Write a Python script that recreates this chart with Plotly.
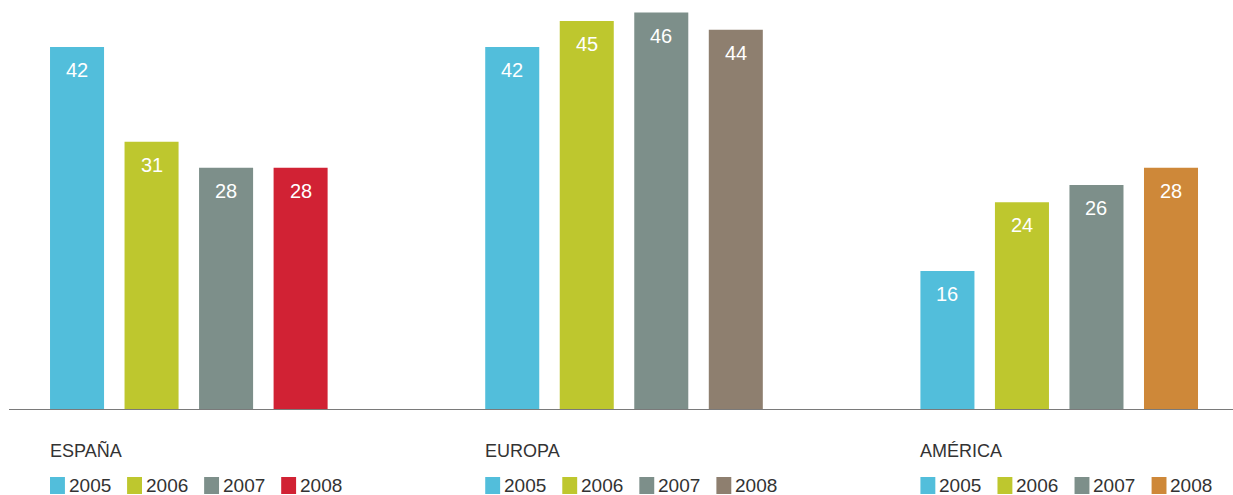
import plotly.graph_objects as go

regions = ["ESPAÑA", "EUROPA", "AMÉRICA"]
years = ["2005", "2006", "2007", "2008"]
espana = [42, 31, 28, 28]
europa = [42, 45, 46, 44]
america = [16, 24, 26, 28]
values = [espana, europa, america]

colors = {
    "ESPAÑA": ["#52BEDB", "#BEC72E", "#7D8F8A", "#D12234"],
    "EUROPA": ["#52BEDB", "#BEC72E", "#7D8F8A", "#8E7F6F"],
    "AMÉRICA": ["#52BEDB", "#BEC72E", "#7D8F8A", "#CE8839"],
}

FONT = "Liberation Sans, Arial, Helvetica, sans-serif"
GROUP_STEP = 5.84
BAR_W = 0.725
PLOT_H = 409  # px height of plotting area
LEG_STEP = 1.034  # legend item step in x units

def py(px_from_top):
    return (PLOT_H - px_from_top) / PLOT_H

fig = go.Figure()
annotations = []
shapes = []
for gi, (reg, vals) in enumerate(zip(regions, values)):
    for si, (yr, v) in enumerate(zip(years, vals)):
        xpos = gi * GROUP_STEP + si
        fig.add_trace(go.Bar(
            x=[xpos], y=[v], width=BAR_W, name=yr,
            marker=dict(color=colors[reg][si], line=dict(width=0)),
            showlegend=False, hoverinfo="skip",
        ))
        annotations.append(dict(
            x=xpos, y=v, xref="x", yref="y", text=str(v), showarrow=False,
            yshift=-23, font=dict(color="white", size=20, family=FONT),
        ))
    # manual legend block
    x0 = gi * GROUP_STEP - BAR_W / 2
    annotations.append(dict(
        x=x0, y=py(451), xref="x", yref="paper", text=reg, showarrow=False,
        xanchor="left", yanchor="middle", xshift=-2,
        font=dict(color="#333333", size=18, family=FONT),
    ))
    for si, yr in enumerate(years):
        sx = x0 + si * LEG_STEP
        shapes.append(dict(
            type="rect", xref="x", yref="paper",
            x0=sx, x1=sx + 0.2, y0=py(494), y1=py(477),
            fillcolor=colors[reg][si], line=dict(width=0),
        ))
        annotations.append(dict(
            x=sx + 0.2, y=py(485), xref="x", yref="paper", text=yr, showarrow=False,
            xanchor="left", yanchor="middle", xshift=3, borderpad=0,
            font=dict(color="#333333", size=19, family=FONT),
        ))

fig.update_layout(
    width=1233, height=495,
    margin=dict(l=9, r=0, t=0, b=86, autoexpand=False),
    paper_bgcolor="white", plot_bgcolor="white",
    barmode="overlay",
    showlegend=False,
    xaxis=dict(range=[-0.913, 2 * GROUP_STEP + 3 + 0.832], showline=True, linecolor="#7a7a7a",
               linewidth=1, showticklabels=False, ticks="", showgrid=False, zeroline=False,
               fixedrange=True),
    yaxis=dict(range=[0, 47.45], visible=False, showgrid=False, zeroline=False, fixedrange=True),
    annotations=annotations,
    shapes=shapes,
)

fig.write_html("out.html", config={"displayModeBar": False, "staticPlot": True},
               post_script="document.body.style.margin='0';document.body.style.overflow='hidden';")
